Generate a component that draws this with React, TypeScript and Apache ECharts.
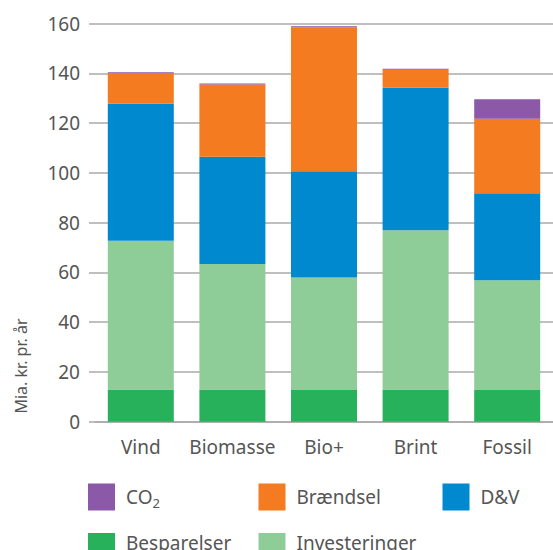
import React, { useEffect, useRef } from "react";
import * as echarts from "echarts";

const categories = ["Vind", "Biomasse", "Bio+", "Brint", "Fossil"];
const besparelser = [13, 13, 12.8, 13, 12.8];
const investeringer = [59.7, 50.4, 45.2, 63.9, 44.1];
const dv = [55.1, 43.1, 42.6, 57.3, 34.9];
const braendsel = [12.2, 29.0, 57.9, 7.2, 29.9];
const co2 = [0.4, 0.4, 0.4, 0.4, 7.9];
const yTicks = { min: 0, max: 160, interval: 20 };

const FONT = "'Noto Sans', 'Open Sans', sans-serif";
const TXT = "#555";

export default function App() {
  const ref = useRef<HTMLDivElement>(null);
  useEffect(() => {
    if (!ref.current) return;
    const chart = echarts.init(ref.current, null, { renderer: "svg" });
    const legendText = (pad: number[]) => ({
      fontSize: 19,
      color: TXT,
      fontFamily: FONT,
      padding: pad,
      rich: {
        a: { fontSize: 19, color: TXT, fontFamily: FONT, lineHeight: 24 },
        b: { fontSize: 13, color: TXT, fontFamily: FONT, lineHeight: 16, verticalAlign: "bottom" },
      },
    });
    const fmt = (name: string) => (name === "CO2" ? "{a|CO}{b|2}" : name);
    const mkLegend = (name: string, left: number, top: number, pad: number[]) => ({
      data: [name],
      left,
      top,
      padding: 0,
      itemWidth: 27,
      itemHeight: 27,
      icon: "rect",
      formatter: fmt,
      textStyle: legendText(pad),
      selectedMode: false,
    });
    const mk = (name: string, data: number[], color: string) => ({
      name,
      type: "bar",
      stack: "total",
      data,
      barWidth: 66,
      itemStyle: { color },
    });
    const row1 = [0, 0, 0, 6];
    const row2 = [0, 0, 8, 6];
    chart.setOption({
      animation: false,
      textStyle: { fontFamily: FONT },
      grid: { left: 95, right: 0, top: 23.5, bottom: 128.2 },
      legend: [
        mkLegend("CO2", 88, 483.5, row1),
        mkLegend("Brændsel", 258.5, 483.5, row1),
        mkLegend("D&V", 442.5, 483.5, row1),
        mkLegend("Besparelser", 88, 533, row2),
        mkLegend("Investeringer", 258.5, 533, row2),
      ],
      xAxis: {
        type: "category",
        data: categories,
        axisLine: { lineStyle: { color: "#aaa", width: 1.5 } },
        axisTick: { show: false },
        axisLabel: { color: TXT, fontSize: 19, fontFamily: FONT, margin: 16, interval: 0 },
      },
      yAxis: {
        type: "value",
        min: yTicks.min,
        max: yTicks.max,
        interval: yTicks.interval,
        axisLine: { show: false },
        axisTick: { show: true, length: 6, lineStyle: { color: "#aaa", width: 1.5 } },
        splitLine: { lineStyle: { color: "#aaa", width: 1.5 } },
        axisLabel: { color: TXT, fontSize: 19, fontFamily: FONT, margin: 15 },
      },
      graphic: [
        {
          type: "text",
          x: 21,
          y: 366,
          rotation: Math.PI / 2,
          style: {
            text: "Mia. kr. pr. år",
            fill: TXT,
            fontSize: 16,
            fontFamily: FONT,
            align: "center",
            verticalAlign: "middle",
          },
        },
      ],
      series: [
        mk("Besparelser", besparelser, "#27b15b"),
        mk("Investeringer", investeringer, "#8ecd98"),
        mk("D&V", dv, "#0089cf"),
        mk("Brændsel", braendsel, "#f47b20"),
        mk("CO2", co2, "#8b59a7"),
      ],
    });
    return () => chart.dispose();
  }, []);
  return (
    <div
      ref={ref}
      style={{ position: "fixed", left: 0, top: 0, width: 553, height: 550, background: "#fff" }}
    />
  );
}
